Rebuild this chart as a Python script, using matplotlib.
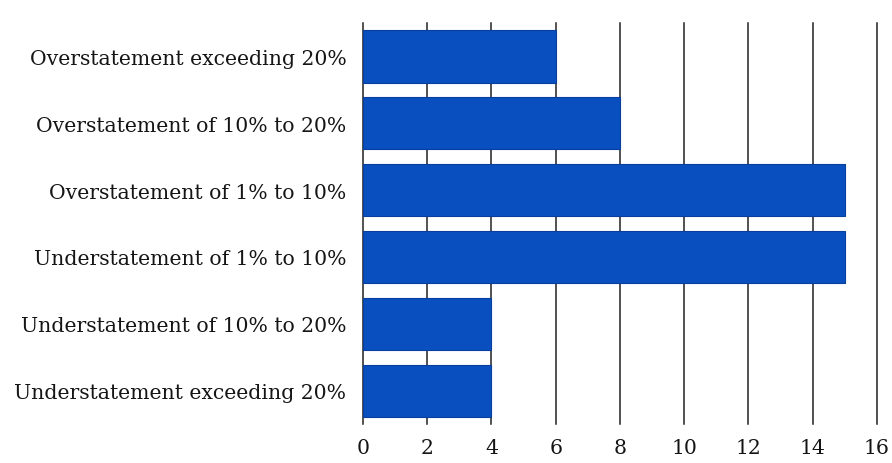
import matplotlib
matplotlib.use('Agg')
import matplotlib.pyplot as plt

categories = ['Understatement exceeding 20%',
              'Understatement of 10% to 20%',
              'Understatement of 1% to 10%',
              'Overstatement of 1% to 10%',
              'Overstatement of 10% to 20%',
              'Overstatement exceeding 20%']
values = [4, 4, 15, 15, 8, 6]
xticks = [0, 2, 4, 6, 8, 10, 12, 14, 16]

plt.rcParams['font.family'] = ['DejaVu Serif']

fig = plt.figure(figsize=(8.92, 4.64), dpi=100)
ax = fig.add_axes([0.407, 0.084, 0.576, 0.864])

ax.barh(categories, values, height=0.78, color='#0a4fbf',
        edgecolor='#083f9e', linewidth=0.8, zorder=2)

ax.set_xlim(0, 16)
ax.set_ylim(-0.5, len(categories) - 0.5)
ax.set_xticks(xticks)
# vertical grid lines, drawn behind the bars
for x in xticks:
    ax.axvline(x, color='#222222', linewidth=1.1, zorder=0, clip_on=False)
for s in ax.spines.values():
    s.set_visible(False)
ax.tick_params(axis='both', length=0, labelsize=14.7, colors='#151515')
ax.tick_params(axis='x', pad=10)
ax.tick_params(axis='y', pad=12)

fig.savefig('out.png', dpi=100)
